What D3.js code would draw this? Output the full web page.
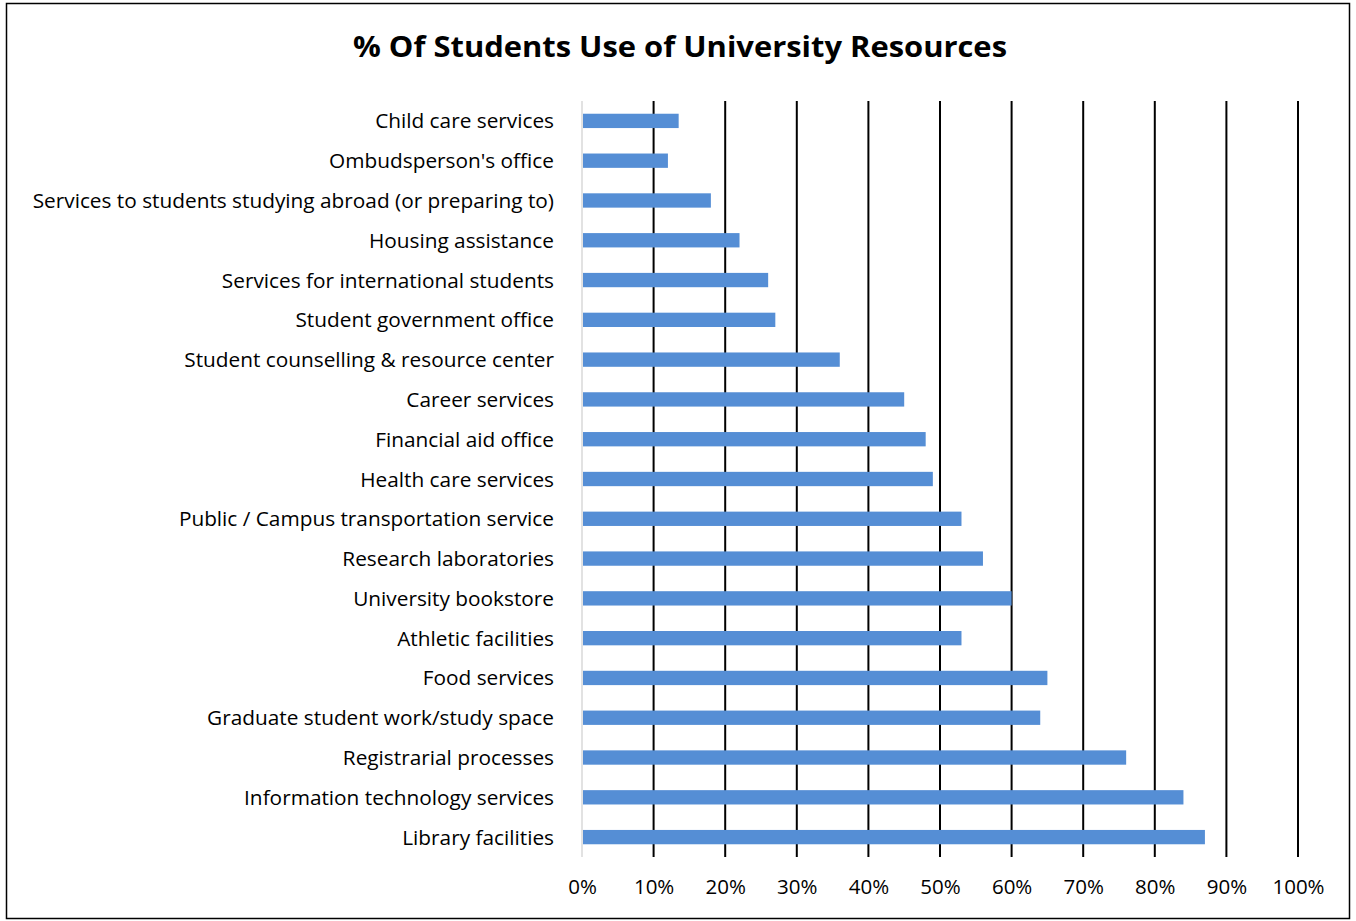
<!DOCTYPE html>
<html>
<head>
<meta charset="utf-8">
<script src="https://cdn.jsdelivr.net/npm/d3@7"></script>
<style>
  body { margin: 0; background: #fff; }
  text { font-family: "Open Sans", Lato, sans-serif; fill: #000; }
</style>
</head>
<body>
<div id="chart"></div>
<script>
// categories top to bottom, as shown
let categorias = [
  "Child care services",
  "Ombudsperson's office",
  "Services to students studying abroad (or preparing to)",
  "Housing assistance",
  "Services for international students",
  "Student government office",
  "Student counselling & resource center",
  "Career services",
  "Financial aid office",
  "Health care services",
  "Public / Campus transportation service",
  "Research laboratories",
  "University bookstore",
  "Athletic facilities",
  "Food services",
  "Graduate student work/study space",
  "Registrarial processes",
  "Information technology services",
  "Library facilities"
];
let valores = [13.5, 12, 18, 22, 26, 27, 36, 45, 48, 49, 53, 56, 60, 53, 65, 64, 76, 84, 87];
let ticks = [0, 10, 20, 30, 40, 50, 60, 70, 80, 90, 100];
let titulo = "% Of Students Use of University Resources";

var svgWidth = 1356;
var svgHeight = 921;

var margin = { top: 101, right: 58, bottom: 64, left: 582 };
var chartWidth = svgWidth - margin.left - margin.right;
var chartHeight = svgHeight - margin.top - margin.bottom;

var svg = d3.select("#chart")
  .append("svg")
  .attr("width", svgWidth)
  .attr("height", svgHeight);

// marco exterior
svg.append("rect")
  .attr("x", 6.5).attr("y", 3.5)
  .attr("width", 1343).attr("height", 915)
  .attr("fill", "none")
  .attr("stroke", "#000")
  .attr("stroke-width", 1.5);

svg.append("text")
  .attr("x", 680)
  .attr("y", 57)
  .attr("text-anchor", "middle")
  .style("font-size", "29px")
  .style("font-weight", "bold")
  .attr("textLength", 654)
  .attr("lengthAdjust", "spacingAndGlyphs")
  .text(titulo);

var chartGroup = svg.append("g")
  .attr("transform", `translate(${margin.left}, ${margin.top})`);

var xScale = d3.scaleLinear()
  .domain([0, 100])
  .range([0, chartWidth]);

var yScale = d3.scaleBand()
  .domain(categorias)
  .range([0, chartHeight])
  .paddingInner(0.64)
  .paddingOuter(0.32);

// lineas verticales
chartGroup.selectAll(".grid")
  .data(ticks.slice(1))
  .enter()
  .append("line")
  .attr("x1", d => xScale(d))
  .attr("x2", d => xScale(d))
  .attr("y1", 0)
  .attr("y2", chartHeight)
  .attr("stroke", "#000")
  .attr("stroke-width", 2);

// eje en 0
chartGroup.append("line")
  .attr("x1", 0).attr("x2", 0)
  .attr("y1", 0).attr("y2", chartHeight)
  .attr("stroke", "#d9d9d9")
  .attr("stroke-width", 1.5);

chartGroup.selectAll(".bar")
  .data(valores)
  .enter()
  .append("rect")
  .attr("x", 1)
  .attr("y", (d, i) => yScale(categorias[i]))
  .attr("width", d => xScale(d) - 1)
  .attr("height", yScale.bandwidth())
  .attr("fill", "#558ed5");

var leftAxis = d3.axisLeft(yScale).tickSize(0).tickPadding(28);
chartGroup.append("g")
  .call(leftAxis)
  .call(g => g.select(".domain").remove())
  .selectAll("text")
  .attr("dy", "0.36em")
  .style("font-size", "20.8px");

var bottomAxis = d3.axisBottom(xScale)
  .tickValues(ticks)
  .tickSize(0)
  .tickPadding(22)
  .tickFormat(d => d + "%");
chartGroup.append("g")
  .attr("transform", `translate(0, ${chartHeight})`)
  .call(bottomAxis)
  .call(g => g.select(".domain").remove())
  .selectAll("text")
  .style("font-size", "20.5px");
</script>
</body>
</html>
